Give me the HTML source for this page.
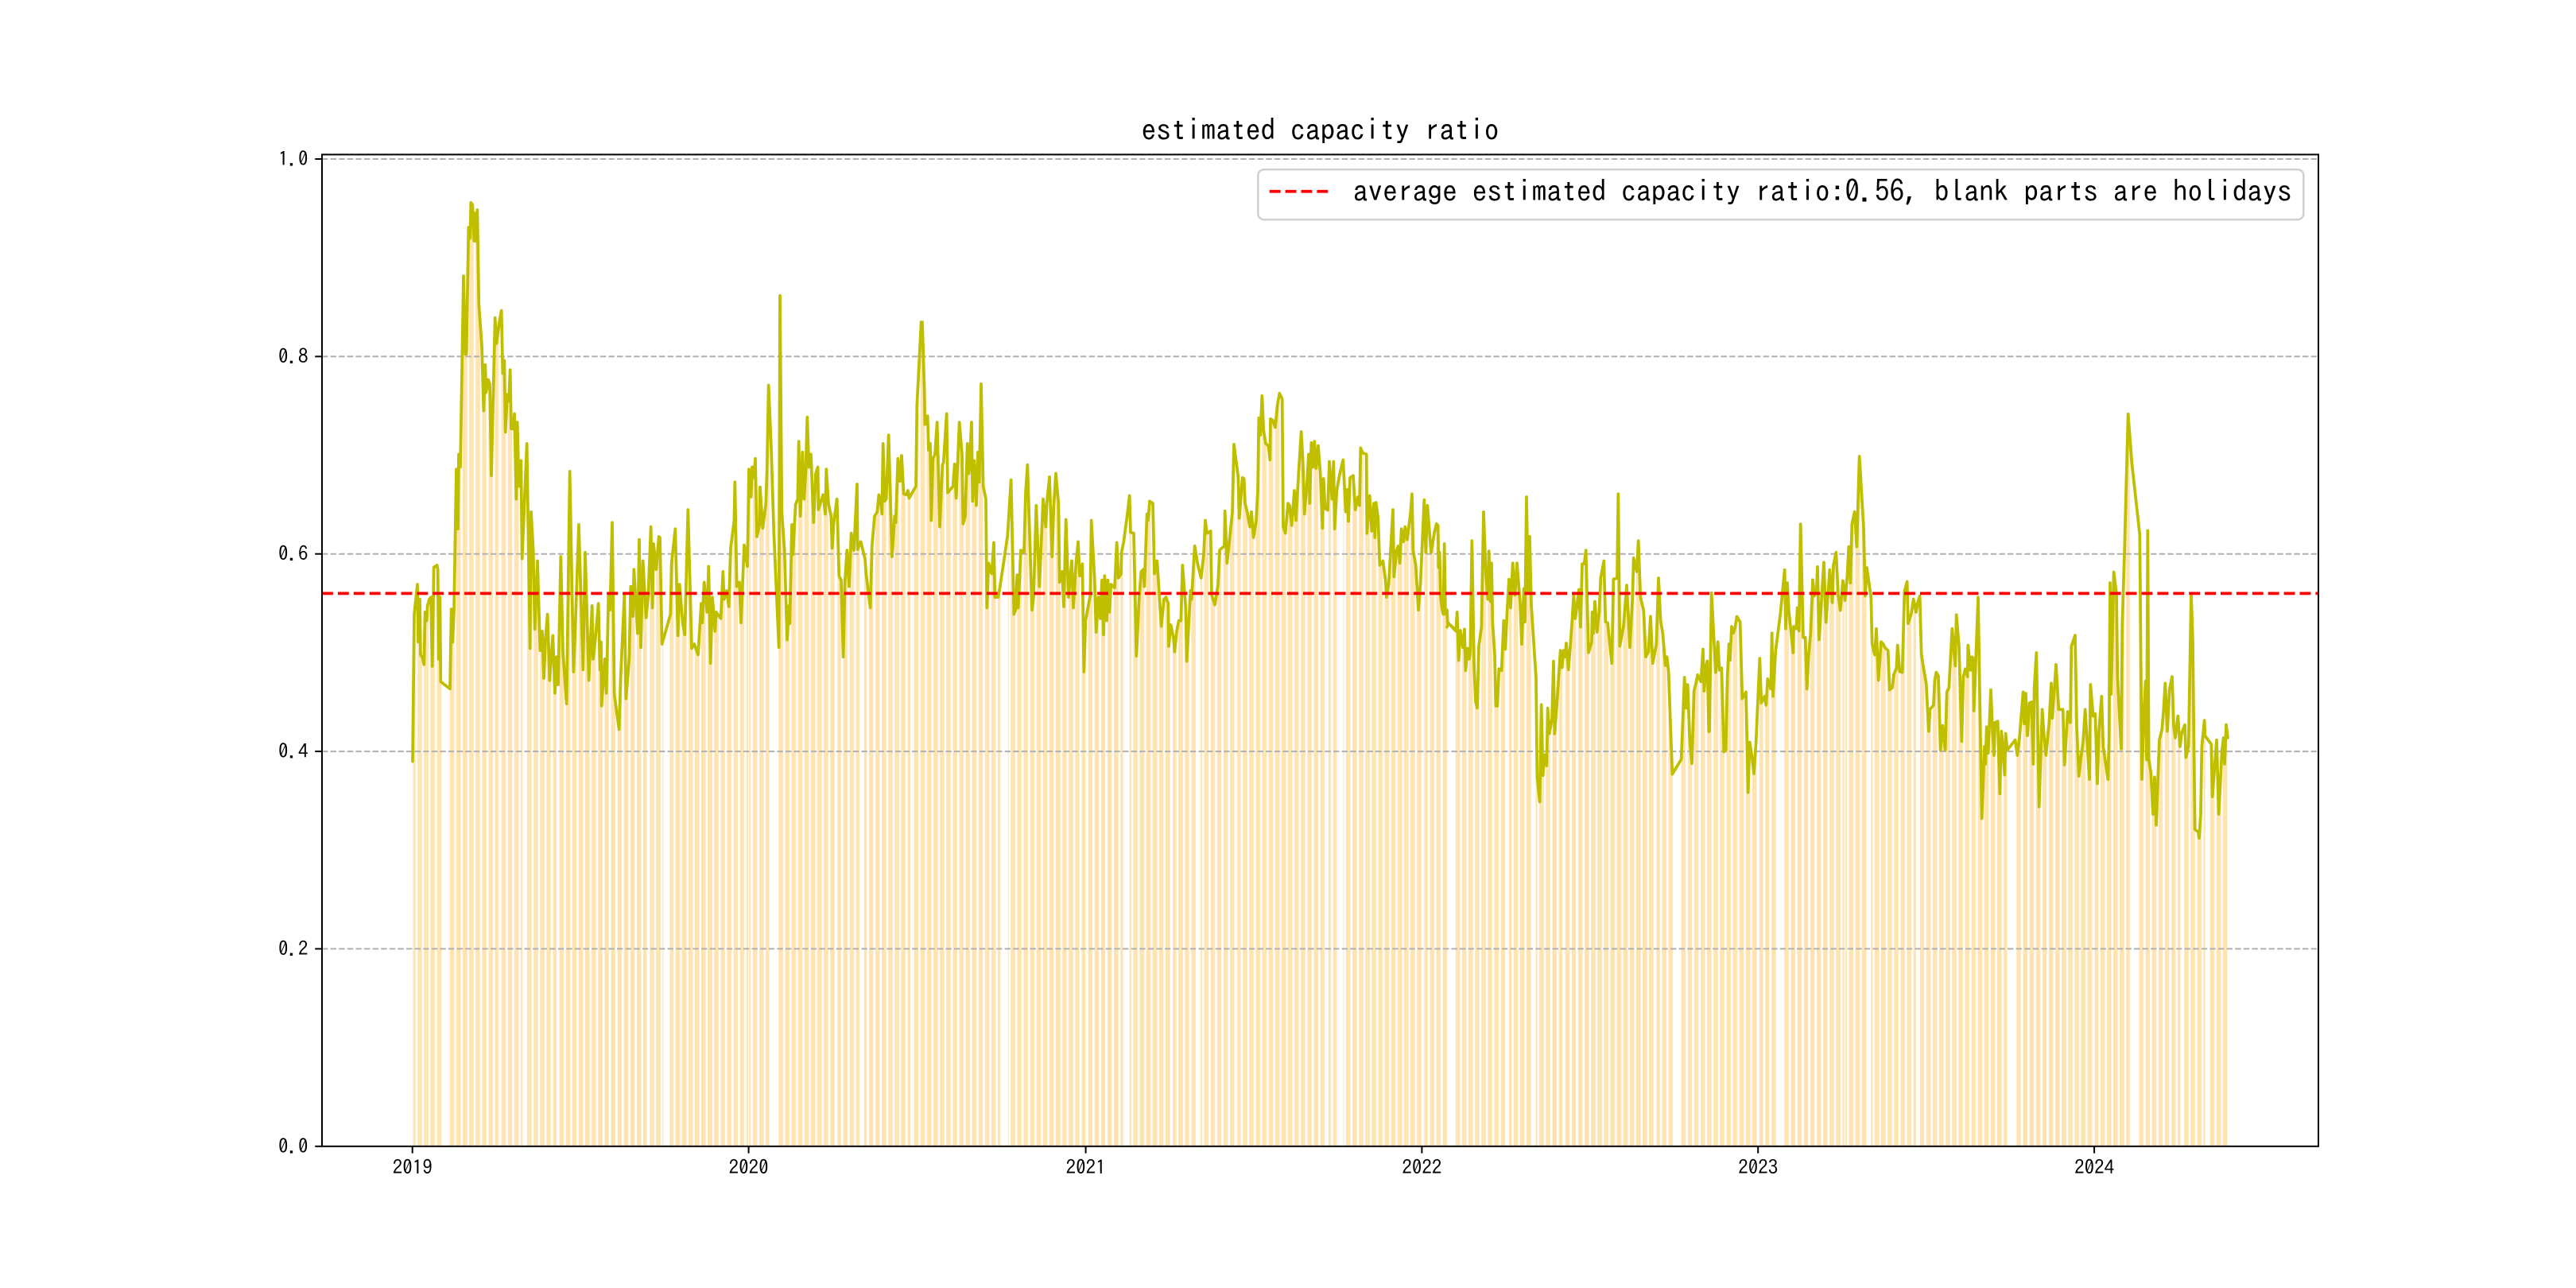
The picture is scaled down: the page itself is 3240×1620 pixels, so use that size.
<!DOCTYPE html>
<html><head><meta charset="utf-8"><style>html,body{margin:0;padding:0;background:#fff}svg{display:block}text{font-family:"IPAGothic","Liberation Mono",monospace;fill:#000}</style></head>
<body>
<svg width="3240" height="1620" viewBox="0 0 3240 1620" xmlns="http://www.w3.org/2000/svg">
<defs>
<pattern id="wk" patternUnits="userSpaceOnUse" x="517.08" y="0" width="8.1095" height="1620"><rect x="0" y="0" width="5.56" height="1620" fill="#FFE4B2"/></pattern>
<clipPath id="area">
<polygon transform="translate(500,220) scale(0.333333,0.53648)" points="57,1375 63,1030 75,960 78,1095 84,995 87,1125 93,1130 100,1148 104,1025 110,1045 113,1010 120,995 126,990 131,1152 137,920 149,915 152,925 155,1135 160,990 163,1188 198,1205 203,1018 208,1095 213,1020 222,690 228,830 231,655 237,685 249,237 256,420 260,420 268,123 274,148 277,65 283,70 289,155 292,90 296,155 301,82 307,305 318,400 325,553 331,445 334,510 342,480 348,490 354,705 368,335 374,395 384,345 392,318 397,465 403,435 407,603 414,515 420,530 425,457 429,595 435,595 441,560 448,760 452,580 458,730 466,670 470,900 488,630 500,1110 504,790 512,880 518,1065 528,905 538,1115 546,1070 552,1180 558,1090 566,1030 574,1185 580,1130 586,1080 594,1215 600,1130 606,1195 616,895 624,1118 638,1240 650,695 664,1165 670,1075 684,820 700,1160 708,885 722,1185 734,1010 738,1135 746,1090 758,1005 764,1160 768,1095 770,1245 782,1135 788,1215 796,985 802,1020 810,815 818,1218 836,1300 842,1178 856,985 862,1228 874,1135 880,965 888,1035 892,925 906,1075 912,855 918,1108 926,905 938,1038 946,985 956,825 962,1015 966,865 976,925 986,848 1000,1000 1000,2700 57,2700"/>
<polygon transform="translate(830,220) scale(0.333333,0.53648)" points="0,850 8,1100 40,1030 44,910 58,830 68,1080 74,960 86,1050 94,1078 106,785 120,1110 130,1100 144,1125 156,1005 160,1050 167,955 178,1025 184,918 191,1145 198,990 208,1070 212,1025 230,1040 238,930 242,995 252,975 260,1012 267,875 280,812 283,720 290,965 300,955 306,1050 318,868 330,918 336,690 344,755 348,685 355,710 360,665 366,848 376,820 378,732 388,828 400,770 404,695 410,493 420,640 430,840 440,980 449,1108 453,283 460,790 470,880 480,1090 487,1010 490,1052 498,820 502,890 512,772 520,760 524,625 530,800 538,650 544,760 550,700 556,568 562,685 570,655 580,815 588,700 596,685 598,785 610,760 616,750 624,795 628,690 636,770 646,800 650,875 656,815 668,760 676,940 684,950 692,1130 698,955 706,880 714,965 722,840 732,880 744,725 746,878 758,860 774,900 778,935 794,1015 800,872 810,800 820,790 826,750 832,760 838,795 842,630 848,765 854,760 863,610 876,895 886,800 890,815 898,665 906,718 912,658 920,748 930,750 936,740 940,758 966,730 970,540 986,345 1000,480 1000,2700 0,2700"/>
<polygon transform="translate(1160,220) scale(0.333333,0.53648)" points="0,345 8,505 10,585 20,565 24,645 30,630 34,810 40,665 48,655 56,580 66,825 76,680 80,675 92,560 96,745 116,730 122,678 128,758 140,580 150,655 154,818 162,800 170,630 176,700 186,580 190,765 196,670 204,775 210,650 215,720 222,490 230,730 240,760 244,1015 250,910 262,935 270,862 274,990 286,990 292,970 308,905 322,845 335,715 346,1030 352,1020 358,938 362,1015 372,880 384,885 390,745 397,680 414,1020 420,990 430,775 442,965 456,760 466,825 470,770 480,708 490,895 496,778 504,700 514,770 518,955 528,930 534,1012 542,808 552,990 564,905 570,1015 580,912 588,860 594,940 604,912 610,1165 616,1045 634,985 638,810 650,945 656,1072 664,990 672,1040 678,950 684,1078 688,940 696,1045 700,950 706,1025 712,960 726,968 734,862 740,945 750,935 752,885 760,860 774,795 782,752 786,838 798,840 808,1128 818,995 826,930 834,925 838,965 848,795 852,810 858,765 870,770 876,935 886,905 896,1000 902,1058 912,995 920,990 928,1005 930,1105 938,1055 948,1085 952,1118 960,1070 968,1045 976,1045 982,915 994,1015 998,1140 1012,975 1020,940 1020,2700 0,2700"/>
<polygon transform="translate(1490,220) scale(0.333333,0.53648)" points="0,940 8,1140 22,975 26,995 38,870 50,915 62,945 72,890 78,810 84,840 92,838 98,835 102,985 114,1008 126,960 132,880 140,875 150,870 152,788 160,910 172,840 180,790 186,632 202,708 206,805 218,710 224,712 228,770 236,790 246,825 252,790 260,850 270,810 276,740 280,570 286,610 292,518 298,600 306,630 316,635 322,668 324,572 332,575 342,592 350,540 358,512 368,525 372,825 380,840 390,770 396,775 404,822 414,740 420,810 430,700 440,602 446,670 452,795 462,718 468,655 472,770 478,628 484,685 490,625 496,688 504,635 512,700 520,828 524,712 530,782 540,786 546,672 556,760 562,672 566,830 574,740 584,705 598,668 608,790 614,738 618,812 624,710 636,705 644,785 654,755 660,775 664,640 672,652 686,655 688,840 698,752 706,835 714,770 718,850 722,768 730,805 736,915 748,905 758,950 762,990 770,960 786,785 790,942 800,880 806,870 812,910 818,830 826,860 832,825 840,855 852,795 858,748 862,880 872,915 882,1020 890,955 904,762 910,885 916,775 930,885 942,840 950,818 956,822 958,920 962,885 966,990 972,1020 976,1030 980,865 984,1030 990,1020 992,1050 1020,1065 1020,2700 0,2700"/>
<polygon transform="translate(1820,220) scale(0.333333,0.53648)" points="0,1020 4,1050 34,1070 38,1025 44,1138 50,1068 54,1085 60,1108 66,1065 70,1162 78,1110 84,1135 88,1112 94,858 102,1148 108,1235 114,1250 120,1105 130,1060 138,790 146,930 154,995 158,882 164,1000 168,910 172,1050 180,1125 184,1245 190,1245 196,1158 206,1162 214,1045 220,1112 228,1010 234,948 240,1015 248,910 256,985 264,910 276,1005 282,1100 290,970 294,1048 300,755 306,975 312,848 318,1008 336,1180 340,1410 350,1470 356,1242 362,1408 368,1360 376,1385 380,1250 386,1310 396,1275 402,1140 406,1310 414,1245 428,1115 434,1155 440,1115 446,1130 450,1098 458,1160 466,1098 472,1045 478,985 484,1040 490,1012 498,972 504,1060 510,912 518,912 524,880 528,978 534,1120 546,1095 548,1025 552,1075 558,1000 566,1072 574,1025 580,945 592,905 598,1048 606,1050 622,1145 628,948 642,945 646,748 652,1105 666,1058 678,962 690,1108 700,990 704,898 716,930 722,858 730,990 742,1022 750,1130 760,1118 768,1035 776,1145 790,1100 798,945 806,1045 814,1075 824,1150 830,1130 836,1165 850,1405 884,1370 896,1178 902,1250 908,1195 916,1325 924,1380 932,1210 940,1190 946,1172 958,1188 966,1112 970,1210 978,1150 982,1140 988,1305 996,978 1006,1080 1014,1165 1020,1095 1020,2700 0,2700"/>
<polygon transform="translate(2150,220) scale(0.333333,0.54885)" points="0,1275 8,958 18,1075 24,1140 32,1070 38,1135 46,1130 55,1322 62,1318 68,1150 74,1075 78,1112 84,1035 90,1050 96,1040 104,1012 116,1025 124,1200 138,1185 146,1415 152,1300 160,1330 168,1372 176,1300 190,1108 196,1210 208,1195 214,1215 220,1155 232,1178 236,1050 240,1195 250,1090 268,1005 284,905 288,1040 294,935 300,1000 316,1095 318,1035 328,1040 332,992 338,1045 344,800 354,1060 362,1060 368,1178 374,1105 382,1050 390,928 396,965 404,955 408,898 414,1065 420,1005 432,888 440,1025 454,905 464,980 468,895 478,865 486,962 494,998 504,930 512,975 520,920 526,852 532,935 538,800 548,772 556,852 566,645 582,808 588,965 594,900 610,968 614,1075 624,1100 630,1040 638,1158 648,1070 656,1075 662,1083 674,1090 680,1180 690,1175 696,1145 706,1130 710,1078 718,1138 728,1140 736,955 746,932 750,1028 762,1005 770,972 780,1002 786,980 794,965 800,1098 808,1130 818,1165 828,1275 832,1225 846,1215 850,1160 856,1140 864,1148 872,1318 880,1262 890,1318 896,1185 904,1175 916,1040 928,1125 932,1008 942,1080 952,1298 958,1150 966,1132 974,1150 976,1078 986,1135 990,1105 996,1108 998,1228 1014,970 1020,1060 1020,2700 0,2700"/>
<polygon transform="translate(2480,220) scale(0.333333,0.54885)" points="0,1100 6,1100 10,1228 24,968 38,1475 48,1310 52,1350 56,1265 62,1325 72,1180 78,1270 84,1330 88,1255 98,1252 106,1418 112,1275 118,1315 124,1375 128,1280 134,1318 164,1295 172,1330 180,1290 194,1185 198,1258 204,1188 210,1285 218,1210 226,1208 232,1350 236,1175 244,1095 254,1448 266,1225 272,1280 280,1330 292,1255 300,1165 304,1245 318,1122 328,1225 344,1225 350,1352 362,1230 372,1255 376,1080 390,1055 396,1260 404,1378 412,1335 420,1300 428,1225 444,1385 448,1168 458,1240 466,1235 474,1395 480,1275 490,1195 496,1310 514,1385 518,1295 522,935 526,1190 536,910 546,960 550,1150 564,1315 568,1030 576,870 590,548 604,660 634,825 642,1385 650,1225 656,1160 660,1340 664,815 668,1340 676,1370 684,1465 690,1380 696,1490 708,1295 718,1270 724,1225 730,1165 738,1275 746,1180 756,1150 762,1262 768,1290 778,1240 786,1310 792,1280 804,1260 808,1335 818,1310 828,960 834,1070 842,1500 854,1505 858,1520 864,1465 868,1310 878,1250 880,1285 904,1305 908,1425 924,1295 932,1465 944,1320 950,1290 954,1350 960,1260 966,1290 966,2700 0,2700"/>
</clipPath>
</defs>

<rect x="0" y="0" width="3240" height="1620" fill="#fff"/>

<!-- bars -->
<rect x="405" y="194.4" width="2511" height="1247.4" fill="url(#wk)" clip-path="url(#area)"/>

<!-- holiday blanks -->
<g fill="#fff">
<rect x="518.1" y="194" width="1.2" height="1248"/>
<rect x="557.5" y="194" width="5.8" height="1248"/>
<rect x="627.0" y="194" width="1.2" height="1248"/>
<rect x="657.1" y="194" width="3.5" height="1248"/>
<rect x="700.0" y="194" width="1.2" height="1248"/>
<rect x="813.5" y="194" width="1.2" height="1248"/>
<rect x="834.4" y="194" width="8.1" height="1248"/>
<rect x="941.0" y="194" width="1.2" height="1248"/>
<rect x="967.6" y="194" width="9.3" height="1248"/>
<rect x="1052.2" y="194" width="1.2" height="1248"/>
<rect x="1081.1" y="194" width="5.8" height="1248"/>
<rect x="1144.9" y="194" width="2.3" height="1248"/>
<rect x="1258.4" y="194" width="9.3" height="1248"/>
<rect x="1365.0" y="194" width="1.2" height="1248"/>
<rect x="1412.5" y="194" width="8.1" height="1248"/>
<rect x="1473.9" y="194" width="1.2" height="1248"/>
<rect x="1506.3" y="194" width="3.5" height="1248"/>
<rect x="1555.0" y="194" width="1.2" height="1248"/>
<rect x="1668.5" y="194" width="2.3" height="1248"/>
<rect x="1681.2" y="194" width="8.2" height="1248"/>
<rect x="1790.1" y="194" width="1.2" height="1248"/>
<rect x="1822.6" y="194" width="5.8" height="1248"/>
<rect x="1895.6" y="194" width="2.3" height="1248"/>
<rect x="1928.0" y="194" width="3.5" height="1248"/>
<rect x="1965.1" y="194" width="1.2" height="1248"/>
<rect x="2082.1" y="194" width="1.2" height="1248"/>
<rect x="2106.4" y="194" width="5.8" height="1248"/>
<rect x="2211.8" y="194" width="1.2" height="1248"/>
<rect x="2236.2" y="194" width="5.8" height="1248"/>
<rect x="2319.6" y="194" width="1.2" height="1248"/>
<rect x="2349.7" y="194" width="3.5" height="1248"/>
<rect x="2409.9" y="194" width="2.4" height="1248"/>
<rect x="2524.6" y="194" width="9.3" height="1248"/>
<rect x="2633.5" y="194" width="1.2" height="1248"/>
<rect x="2678.7" y="194" width="9.3" height="1248"/>
<rect x="2742.4" y="194" width="2.4" height="1248"/>
<rect x="2773.7" y="194" width="3.5" height="1248"/>
</g>

<!-- grid -->
<g stroke="#b0b0b0" stroke-width="2" stroke-dasharray="7.4 3.2" fill="none">
<line x1="405" y1="200.0" x2="2916" y2="200.0"/>
<line x1="405" y1="448.4" x2="2916" y2="448.4"/>
<line x1="405" y1="696.7" x2="2916" y2="696.7"/>
<line x1="405" y1="945.1" x2="2916" y2="945.1"/>
<line x1="405" y1="1193.4" x2="2916" y2="1193.4"/>
</g>

<!-- line -->
<g fill="none" stroke="#BFBF00" stroke-width="3.75" stroke-linejoin="round" stroke-linecap="round">
<polyline vector-effect="non-scaling-stroke" transform="translate(500,220) scale(0.333333,0.53648)" points="57,1375 63,1030 75,960 78,1095 84,995 87,1125 93,1130 100,1148 104,1025 110,1045 113,1010 120,995 126,990 131,1152 137,920 149,915 152,925 155,1135 160,990 163,1188 198,1205 203,1018 208,1095 213,1020 222,690 228,830 231,655 237,685 249,237 256,420 260,420 268,123 274,148 277,65 283,70 289,155 292,90 296,155 301,82 307,305 318,400 325,553 331,445 334,510 342,480 348,490 354,705 368,335 374,395 384,345 392,318 397,465 403,435 407,603 414,515 420,530 425,457 429,595 435,595 441,560 448,760 452,580 458,730 466,670 470,900 488,630 500,1110 504,790 512,880 518,1065 528,905 538,1115 546,1070 552,1180 558,1090 566,1030 574,1185 580,1130 586,1080 594,1215 600,1130 606,1195 616,895 624,1118 638,1240 650,695 664,1165 670,1075 684,820 700,1160 708,885 722,1185 734,1010 738,1135 746,1090 758,1005 764,1160 768,1095 770,1245 782,1135 788,1215 796,985 802,1020 810,815 818,1218 836,1300 842,1178 856,985 862,1228 874,1135 880,965 888,1035 892,925 906,1075 912,855 918,1108 926,905 938,1038 946,985 956,825 962,1015 966,865 976,925 986,848"/>
<polyline vector-effect="non-scaling-stroke" transform="translate(830,220) scale(0.333333,0.53648)" points="0,850 8,1100 40,1030 44,910 58,830 68,1080 74,960 86,1050 94,1078 106,785 120,1110 130,1100 144,1125 156,1005 160,1050 167,955 178,1025 184,918 191,1145 198,990 208,1070 212,1025 230,1040 238,930 242,995 252,975 260,1012 267,875 280,812 283,720 290,965 300,955 306,1050 318,868 330,918 336,690 344,755 348,685 355,710 360,665 366,848 376,820 378,732 388,828 400,770 404,695 410,493 420,640 430,840 440,980 449,1108 453,283 460,790 470,880 480,1090 487,1010 490,1052 498,820 502,890 512,772 520,760 524,625 530,800 538,650 544,760 550,700 556,568 562,685 570,655 580,815 588,700 596,685 598,785 610,760 616,750 624,795 628,690 636,770 646,800 650,875 656,815 668,760 676,940 684,950 692,1130 698,955 706,880 714,965 722,840 732,880 744,725 746,878 758,860 774,900 778,935 794,1015 800,872 810,800 820,790 826,750 832,760 838,795 842,630 848,765 854,760 863,610 876,895 886,800 890,815 898,665 906,718 912,658 920,748 930,750 936,740 940,758 966,730 970,540 986,345"/>
<polyline vector-effect="non-scaling-stroke" transform="translate(1160,220) scale(0.333333,0.53648)" points="0,345 8,505 10,585 20,565 24,645 30,630 34,810 40,665 48,655 56,580 66,825 76,680 80,675 92,560 96,745 116,730 122,678 128,758 140,580 150,655 154,818 162,800 170,630 176,700 186,580 190,765 196,670 204,775 210,650 215,720 222,490 230,730 240,760 244,1015 250,910 262,935 270,862 274,990 286,990 292,970 308,905 322,845 335,715 346,1030 352,1020 358,938 362,1015 372,880 384,885 390,745 397,680 414,1020 420,990 430,775 442,965 456,760 466,825 470,770 480,708 490,895 496,778 504,700 514,770 518,955 528,930 534,1012 542,808 552,990 564,905 570,1015 580,912 588,860 594,940 604,912 610,1165 616,1045 634,985 638,810 650,945 656,1072 664,990 672,1040 678,950 684,1078 688,940 696,1045 700,950 706,1025 712,960 726,968 734,862 740,945 750,935 752,885 760,860 774,795 782,752 786,838 798,840 808,1128 818,995 826,930 834,925 838,965 848,795 852,810 858,765 870,770 876,935 886,905 896,1000 902,1058 912,995 920,990 928,1005 930,1105 938,1055 948,1085 952,1118 960,1070 968,1045 976,1045 982,915 994,1015 998,1140"/>
<polyline vector-effect="non-scaling-stroke" transform="translate(1490,220) scale(0.333333,0.53648)" points="8,1140 22,975 26,995 38,870 50,915 62,945 72,890 78,810 84,840 92,838 98,835 102,985 114,1008 126,960 132,880 140,875 150,870 152,788 160,910 172,840 180,790 186,632 202,708 206,805 218,710 224,712 228,770 236,790 246,825 252,790 260,850 270,810 276,740 280,570 286,610 292,518 298,600 306,630 316,635 322,668 324,572 332,575 342,592 350,540 358,512 368,525 372,825 380,840 390,770 396,775 404,822 414,740 420,810 430,700 440,602 446,670 452,795 462,718 468,655 472,770 478,628 484,685 490,625 496,688 504,635 512,700 520,828 524,712 530,782 540,786 546,672 556,760 562,672 566,830 574,740 584,705 598,668 608,790 614,738 618,812 624,710 636,705 644,785 654,755 660,775 664,640 672,652 686,655 688,840 698,752 706,835 714,770 718,850 722,768 730,805 736,915 748,905 758,950 762,990 770,960 786,785 790,942 800,880 806,870 812,910 818,830 826,860 832,825 840,855 852,795 858,748 862,880 872,915 882,1020 890,955 904,762 910,885 916,775 930,885 942,840 950,818 956,822 958,920 962,885 966,990 972,1020 976,1030 980,865 984,1030 990,1020 992,1050 1020,1065"/>
<polyline vector-effect="non-scaling-stroke" transform="translate(1820,220) scale(0.333333,0.53648)" points="0,1060 4,1050 34,1070 38,1025 44,1138 50,1068 54,1085 60,1108 66,1065 70,1162 78,1110 84,1135 88,1112 94,858 102,1148 108,1235 114,1250 120,1105 130,1060 138,790 146,930 154,995 158,882 164,1000 168,910 172,1050 180,1125 184,1245 190,1245 196,1158 206,1162 214,1045 220,1112 228,1010 234,948 240,1015 248,910 256,985 264,910 276,1005 282,1100 290,970 294,1048 300,755 306,975 312,848 318,1008 336,1180 340,1410 350,1470 356,1242 362,1408 368,1360 376,1385 380,1250 386,1310 396,1275 402,1140 406,1310 414,1245 428,1115 434,1155 440,1115 446,1130 450,1098 458,1160 466,1098 472,1045 478,985 484,1040 490,1012 498,972 504,1060 510,912 518,912 524,880 528,978 534,1120 546,1095 548,1025 552,1075 558,1000 566,1072 574,1025 580,945 592,905 598,1048 606,1050 622,1145 628,948 642,945 646,748 652,1105 666,1058 678,962 690,1108 700,990 704,898 716,930 722,858 730,990 742,1022 750,1130 760,1118 768,1035 776,1145 790,1100 798,945 806,1045 814,1075 824,1150 830,1130 836,1165 850,1405 884,1370 896,1178 902,1250 908,1195 916,1325 924,1380 932,1210 940,1190 946,1172 958,1188 966,1112 970,1210 978,1150 982,1140 988,1305"/>
<polyline vector-effect="non-scaling-stroke" transform="translate(2150,220) scale(0.333333,0.54885)" points="0,1275 8,958 18,1075 24,1140 32,1070 38,1135 46,1130 55,1322 62,1318 68,1150 74,1075 78,1112 84,1035 90,1050 96,1040 104,1012 116,1025 124,1200 138,1185 146,1415 152,1300 160,1330 168,1372 176,1300 190,1108 196,1210 208,1195 214,1215 220,1155 232,1178 236,1050 240,1195 250,1090 268,1005 284,905 288,1040 294,935 300,1000 316,1095 318,1035 328,1040 332,992 338,1045 344,800 354,1060 362,1060 368,1178 374,1105 382,1050 390,928 396,965 404,955 408,898 414,1065 420,1005 432,888 440,1025 454,905 464,980 468,895 478,865 486,962 494,998 504,930 512,975 520,920 526,852 532,935 538,800 548,772 556,852 566,645 582,808 588,965 594,900 610,968 614,1075 624,1100 630,1040 638,1158 648,1070 656,1075 662,1083 674,1090 680,1180 690,1175 696,1145 706,1130 710,1078 718,1138 728,1140 736,955 746,932 750,1028 762,1005 770,972 780,1002 786,980 794,965 800,1098 808,1130 818,1165 828,1275 832,1225 846,1215 850,1160 856,1140 864,1148 872,1318 880,1262 890,1318 896,1185 904,1175 916,1040 928,1125 932,1008 942,1080 952,1298 958,1150 966,1132 974,1150 976,1078 986,1135 990,1105 996,1108 998,1228 1014,970"/>
<polyline vector-effect="non-scaling-stroke" transform="translate(2480,220) scale(0.333333,0.54885)" points="24,968 38,1475 48,1310 52,1350 56,1265 62,1325 72,1180 78,1270 84,1330 88,1255 98,1252 106,1418 112,1275 118,1315 124,1375 128,1280 134,1318 164,1295 172,1330 180,1290 194,1185 198,1258 204,1188 210,1285 218,1210 226,1208 232,1350 236,1175 244,1095 254,1448 266,1225 272,1280 280,1330 292,1255 300,1165 304,1245 318,1122 328,1225 344,1225 350,1352 362,1230 372,1255 376,1080 390,1055 396,1260 404,1378 412,1335 420,1300 428,1225 444,1385 448,1168 458,1240 466,1235 474,1395 480,1275 490,1195 496,1310 514,1385 518,1295 522,935 526,1190 536,910 546,960 550,1150 564,1315 568,1030 576,870 590,548 604,660 634,825 642,1385 650,1225 656,1160 660,1340 664,815 668,1340 676,1370 684,1465 690,1380 696,1490 708,1295 718,1270 724,1225 730,1165 738,1275 746,1180 756,1150 762,1262 768,1290 778,1240 786,1310 792,1280 804,1260 808,1335 818,1310 828,960 834,1070 842,1500 854,1505 858,1520 864,1465 868,1310 878,1250 880,1285 904,1305 908,1425 924,1295 932,1465 944,1320 950,1290 954,1350 960,1260 966,1290"/>
</g>

<!-- average line -->
<line x1="405" y1="746.4" x2="2916" y2="746.4" stroke="#ff0000" stroke-width="3.75" stroke-dasharray="13.9 6"/>

<!-- spines -->
<rect x="405" y="194.4" width="2511" height="1247.4" fill="none" stroke="#000" stroke-width="2"/>

<!-- y ticks -->
<g stroke="#000" stroke-width="2">
<line x1="396.25" y1="200.0" x2="405" y2="200.0"/>
<line x1="396.25" y1="448.4" x2="405" y2="448.4"/>
<line x1="396.25" y1="696.7" x2="405" y2="696.7"/>
<line x1="396.25" y1="945.1" x2="405" y2="945.1"/>
<line x1="396.25" y1="1193.4" x2="405" y2="1193.4"/>
<line x1="396.25" y1="1441.8" x2="405" y2="1441.8"/>
<line x1="518.7" y1="1441.8" x2="518.7" y2="1450.55"/>
<line x1="941.6" y1="1441.8" x2="941.6" y2="1450.55"/>
<line x1="1365.6" y1="1441.8" x2="1365.6" y2="1450.55"/>
<line x1="1788.4" y1="1441.8" x2="1788.4" y2="1450.55"/>
<line x1="2211.2" y1="1441.8" x2="2211.2" y2="1450.55"/>
<line x1="2634.1" y1="1441.8" x2="2634.1" y2="1450.55"/>
</g>
<g font-size="25" text-anchor="end">
<text x="387.5" y="208.5" textLength="37.5" lengthAdjust="spacingAndGlyphs">1.0</text>
<text x="387.5" y="456.9" textLength="37.5" lengthAdjust="spacingAndGlyphs">0.8</text>
<text x="387.5" y="705.2" textLength="37.5" lengthAdjust="spacingAndGlyphs">0.6</text>
<text x="387.5" y="953.6" textLength="37.5" lengthAdjust="spacingAndGlyphs">0.4</text>
<text x="387.5" y="1201.9" textLength="37.5" lengthAdjust="spacingAndGlyphs">0.2</text>
<text x="387.5" y="1450.3" textLength="37.5" lengthAdjust="spacingAndGlyphs">0.0</text>
</g>
<g font-size="25" text-anchor="middle">
<text x="518.7" y="1477">2019</text>
<text x="941.6" y="1477">2020</text>
<text x="1365.6" y="1477">2021</text>
<text x="1788.4" y="1477">2022</text>
<text x="2211.2" y="1477">2023</text>
<text x="2634.1" y="1477">2024</text>
</g>

<!-- title -->
<text x="1435.5" y="176.5" font-size="37.5" textLength="450" lengthAdjust="spacingAndGlyphs">estimated capacity ratio</text>

<!-- legend -->
<rect x="1582.3" y="213.2" width="1315" height="63" rx="7.5" ry="7.5" fill="#fff" fill-opacity="0.8" stroke="#d0d0d0" stroke-width="2.5"/>
<line x1="1596.7" y1="240.7" x2="1671.7" y2="240.7" stroke="#ff0000" stroke-width="3.75" stroke-dasharray="13.9 6"/>
<text x="1701.7" y="253.3" font-size="37.5" textLength="1181" lengthAdjust="spacingAndGlyphs">average estimated capacity ratio:0.56, blank parts are holidays</text>
</svg>
</body></html>
